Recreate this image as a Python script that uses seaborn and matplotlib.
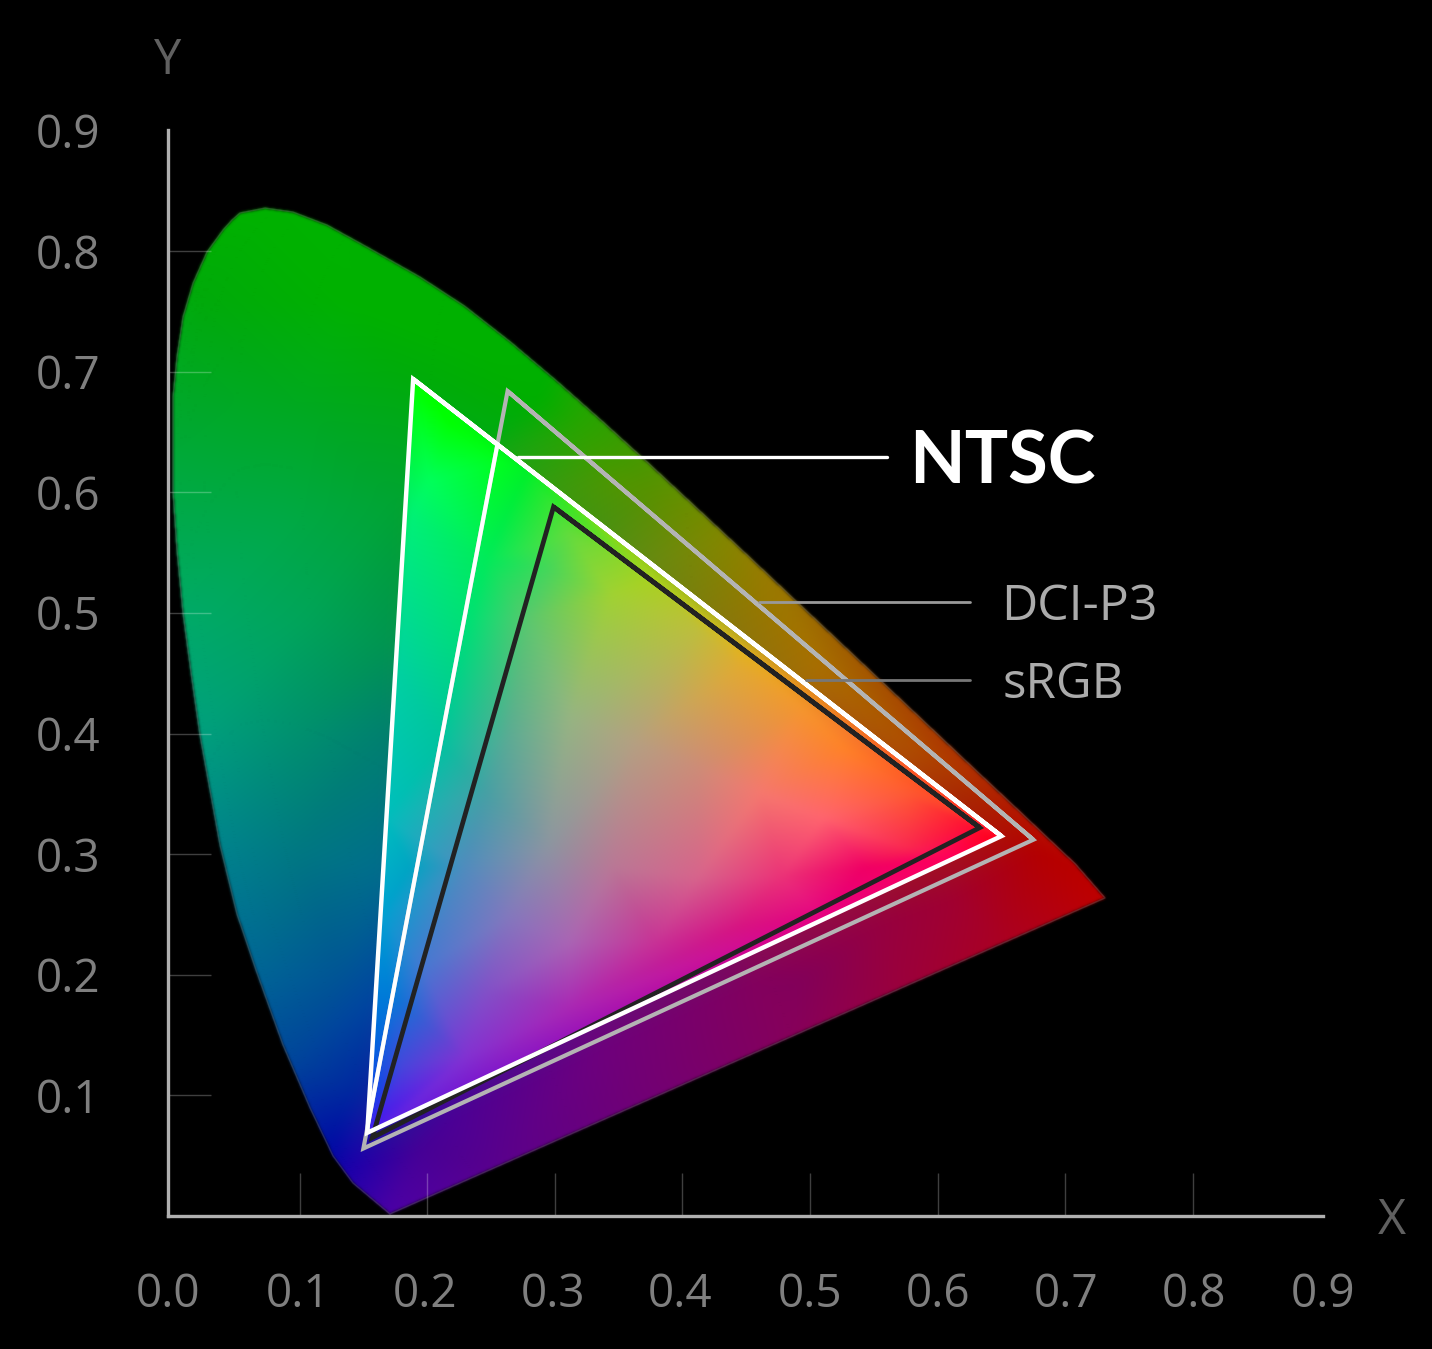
import numpy as np
import seaborn as sns
import matplotlib
matplotlib.use("Agg")
import matplotlib.pyplot as plt
import matplotlib.tri as mtri
from matplotlib.path import Path
from matplotlib.patches import Polygon
from matplotlib.transforms import ScaledTranslation

# Spectral locus of the diagram (chromaticity x, y)
locus_x = [.1708,.1418,.1262,.1082,.0870,.0666,.0509,.0376,.0219,.0157,.0086,.0039,.0008,.0008,.0008,.0039,.0086,.0165,.0274,.0400,.0470,.0533,.0729,.0948,.1215,.1528,.1944,.2296,.2658,.3016,.3373,.3731,.4441,.5125,.5752,.6270,.6658,.6915,.7079,.7312]
locus_y = [.0017,.0274,.0498,.0896,.1418,.2015,.2504,.3076,.3988,.4444,.5000,.5522,.6003,.6410,.6791,.7123,.7454,.7736,.7993,.8176,.8259,.8317,.8358,.8325,.8217,.8035,.7786,.7543,.7243,.6923,.6589,.6245,.5547,.4866,.4242,.3725,.3340,.3083,.2920,.2637]

# Gamut triangles
ntsc_x = [.189,.650,.153]
ntsc_y = [.694,.315,.069]
dci_x = [.263,.675,.150]
dci_y = [.684,.312,.056]
srgb_x = [.299,.633,.157]
srgb_y = [.588,.322,.065]

# Colour samples (picture column, row, r, g, b)
outer_samples = [
    (265,215,0,178,0),(350,300,0,178,0),(480,350,0,178,0),(200,300,0,170,10),(180,400,0,168,40),(300,400,0,170,30),(400,370,0,172,10),
    (176,500,0,170,70),(280,520,0,170,70),(395,500,0,165,50),(185,620,0,170,105),(300,620,0,165,90),(385,640,0,150,80),
    (200,730,0,160,125),(300,730,0,145,110),(380,730,0,130,110),(225,850,0,130,140),(300,850,0,120,130),(375,870,0,110,140),
    (260,975,0,100,150),(340,975,0,85,150),(370,1000,0,70,160),(290,1060,0,70,155),(355,1090,0,40,160),(330,1150,0,10,165),(355,1165,30,0,170),
    (390,1210,75,0,165),(420,1150,70,0,150),(500,1165,90,0,140),(650,1090,115,0,115),(800,1030,135,0,90),(900,985,155,0,60),(1000,940,170,0,35),
    (1100,897,190,0,0),(1040,850,180,0,0),(950,900,160,0,50),(800,980,130,0,90),(1010,800,180,30,0),(970,793,170,40,0),(907,743,175,80,0),
    (823,668,170,110,0),(760,604,150,120,0),(720,540,130,135,0),(655,494,90,145,0),(620,480,80,150,0),(580,425,40,165,0),(540,400,0,175,0),
    (450,1120,75,0,150),(600,1050,110,0,125),(750,985,130,0,95),(880,925,150,0,65),
    (140,190,0,178,0),(300,190,0,178,0),(560,340,0,178,0),(760,560,150,125,0),(1130,885,190,0,0),(1130,910,190,0,0),(400,1235,75,0,165),
    (300,1235,30,0,170),(120,1000,0,100,150),(140,500,0,170,70),
]
inner_samples = [
    (413,385,0,255,0),(430,480,0,255,90),(410,519,0,240,120),(398,668,0,210,160),(385,818,0,190,190),(381,917,0,160,210),(368,1066,0,90,225),
    (528,470,0,240,40),(570,534,100,220,60),(549,569,70,215,90),(528,619,90,200,110),(612,594,160,210,50),(697,629,190,190,60),(739,668,225,170,50),
    (802,708,245,150,45),(844,748,255,130,40),(907,793,255,90,50),(966,823,255,20,50),(570,718,150,180,130),(633,743,180,160,130),(697,768,205,140,120),
    (760,793,245,120,110),(823,818,255,100,110),(907,848,250,40,80),(507,743,90,170,150),(486,793,70,160,165),(549,843,140,150,160),(612,867,185,120,150),
    (697,877,215,100,140),(781,877,235,50,120),(865,867,240,0,100),(465,867,80,140,190),(507,917,130,120,190),(570,942,170,100,180),(655,942,200,50,150),
    (739,927,215,20,130),(423,967,70,120,210),(486,992,130,80,200),(570,1007,170,40,180),(402,1066,70,70,220),(465,1057,130,50,210),(381,1116,70,30,235),
    (823,917,230,0,130),(949,857,255,0,90),(991,838,255,0,30),(655,579,170,210,30),(739,648,225,180,30),(500,460,0,255,30),(450,420,0,255,0),
    (486,560,0,235,90),(470,619,0,225,115),(440,743,0,195,160),(410,867,0,165,195),(390,992,0,125,215),(378,1090,20,70,230),
    (405,340,0,255,0),(1060,850,255,0,30),(345,1165,70,20,240),
]

x_labels = ["0.0","0.1","0.2","0.3","0.4","0.5","0.6","0.7","0.8","0.9"]
y_labels = ["","0.1","0.2","0.3","0.4","0.5","0.6","0.7","0.8","0.9"]
tick_values = [0.0,0.1,0.2,0.3,0.4,0.5,0.6,0.7,0.8,0.9]
x_label_shift = [-4,-2,-2,-2,-2,0,0,1,1,3]

W, H = 1432, 1349
sns.set_theme(style="dark", rc={"axes.facecolor": "black", "figure.facecolor": "black",
                                "savefig.facecolor": "black", "axes.grid": False})
plt.rcParams["font.family"] = ["Open Sans", "DejaVu Sans"]

fig = plt.figure(figsize=(W/100, H/100), dpi=100)
L, R, T, B = 168, 1323, 130, 1216
ax = fig.add_axes([L/W, 1-B/H, (R-L)/W, (B-T)/H])
xmin, xmax = (L-172)/1276, (R-172)/1276
ymin, ymax = 0.0, (B-T)/1206


def to_data(samples):
    s = np.array(samples, dtype=float)
    return (s[:, 0]-172)/1276, (1216-s[:, 1])/1206, s[:, 2:]/255.0


def box(m, r):
    for axis in (0, 1):
        c = np.cumsum(np.insert(m, 0, 0, axis=axis), axis=axis)
        n = m.shape[axis]
        hi = np.clip(np.arange(n)+r+1, 0, n)
        lo = np.clip(np.arange(n)-r, 0, n)
        shape = [1]*m.ndim
        shape[axis] = -1
        m = (np.take(c, hi, axis=axis)-np.take(c, lo, axis=axis))/(hi-lo).reshape(shape)
    return m


gx, gy = np.meshgrid(xmin+(np.arange(R-L)+.5)/1276, ymax-(np.arange(B-T)+.5)/1206)


def field(samples, r):
    sx, sy, rgb = to_data(samples)
    tri_ = mtri.Triangulation(sx, sy)
    chans = []
    for i in range(3):
        z = mtri.LinearTriInterpolator(tri_, rgb[:, i])(gx, gy)
        chans.append(np.ma.filled(z, 0.0))
    return box(np.stack(chans, axis=-1), r).clip(0, 1)


mask = Path(np.c_[locus_x, locus_y]).contains_points(np.c_[gx.ravel(), gy.ravel()]).reshape(gx.shape).astype(float)
mask = box(box(box(mask, 1), 1), 1)
outer = np.dstack([field(outer_samples, 10), mask])
inner = field(inner_samples, 4)
extent = (xmin, xmax, ymin, ymax)
ax.imshow(outer, extent=extent, aspect="auto", zorder=0, interpolation="nearest")
ax.imshow(inner, extent=extent, aspect="auto", zorder=0.5, interpolation="nearest",
          clip_path=Polygon(np.c_[ntsc_x, ntsc_y], closed=True, transform=ax.transData))
ax.set_xlim(xmin, xmax)
ax.set_ylim(ymin, ymax)
ax.set_facecolor("black")


def tri(xs, ys, color, lw, zorder):
    sns.lineplot(x=xs+xs[:2], y=ys+ys[:2], sort=False, estimator=None, color=color, lw=lw, ax=ax,
                 zorder=zorder, solid_joinstyle="miter", solid_capstyle="butt")
    return ax.lines[-1]


sns.lineplot(x=locus_x+locus_x[:1], y=locus_y+locus_y[:1], sort=False, estimator=None, color="#909090",
             lw=1.0, alpha=0.25, ax=ax, zorder=1)
tri(srgb_x, srgb_y, "#222222", 3.4, 2)
tri(dci_x, dci_y, "#b4b4b4", 3.0, 3)
tri(dci_x, dci_y, "#ffffff", 3.0, 4).set_clip_path(
    Polygon(np.c_[ntsc_x, ntsc_y], closed=True, transform=ax.transData))
tri(ntsc_x, ntsc_y, "#ffffff", 3.2, 5)

# leader lines and labels
sns.lineplot(x=[.271, .5605], y=[.6294, .6294], color="white", lw=2.4, ax=ax, zorder=6)
sns.lineplot(x=[.460, .625], y=[.5091, .5091], color="#999999", lw=2.0, ax=ax, zorder=6)
sns.lineplot(x=[.497, .625], y=[.4444, .4444], color="#777777", lw=2.0, ax=ax, zorder=6)
ax.text(.5775, .6294, "NTSC", color="white", fontsize=52, family=["Lato", "DejaVu Sans"], fontweight="bold",
        va="center_baseline", ha="left", zorder=7)
ax.text(.6495, .5098, "DCI-P3", color="#ababab", fontsize=36, va="center_baseline", ha="left", zorder=7)
ax.text(.651, .4452, "sRGB", color="#ababab", fontsize=35.5, va="center_baseline", ha="left", zorder=7)

# axes
for s in ("top", "right"):
    ax.spines[s].set_visible(False)
for s in ("left", "bottom"):
    ax.spines[s].set_color("#b0b0b0")
    ax.spines[s].set_linewidth(2.4)
    ax.spines[s].set_zorder(8)
ax.set_axisbelow(False)
ax.set_xticks(tick_values, x_labels)
ax.set_yticks(tick_values, y_labels)
ax.tick_params(axis="x", direction="in", length=31, width=1.0, color=(1, 1, 1, .25),
               labelcolor="#7f7f7f", labelsize=33, pad=40.5, bottom=True)
ax.tick_params(axis="y", direction="in", length=31, width=1.0, color=(1, 1, 1, .25),
               labelcolor="#7f7f7f", labelsize=33, pad=48.5, left=True)
for axis in (ax.xaxis, ax.yaxis):
    ticks = axis.get_major_ticks()
    ticks[0].tick1line.set_visible(False)
    ticks[-1].tick1line.set_visible(False)
for lab, dx in zip(ax.get_xticklabels(), x_label_shift):
    lab.set_transform(lab.get_transform()+ScaledTranslation(dx/100, 0, fig.dpi_scale_trans))

ax.text(0, 1.0635, "Y", transform=ax.transAxes, color="#606060", fontsize=35, ha="center", va="center", clip_on=False)
ax.text(1.0597, -0.0046, "X", transform=ax.transAxes, color="#606060", fontsize=35, ha="center", va="center", clip_on=False)

fig.savefig("out.png", dpi=100, facecolor="black")
